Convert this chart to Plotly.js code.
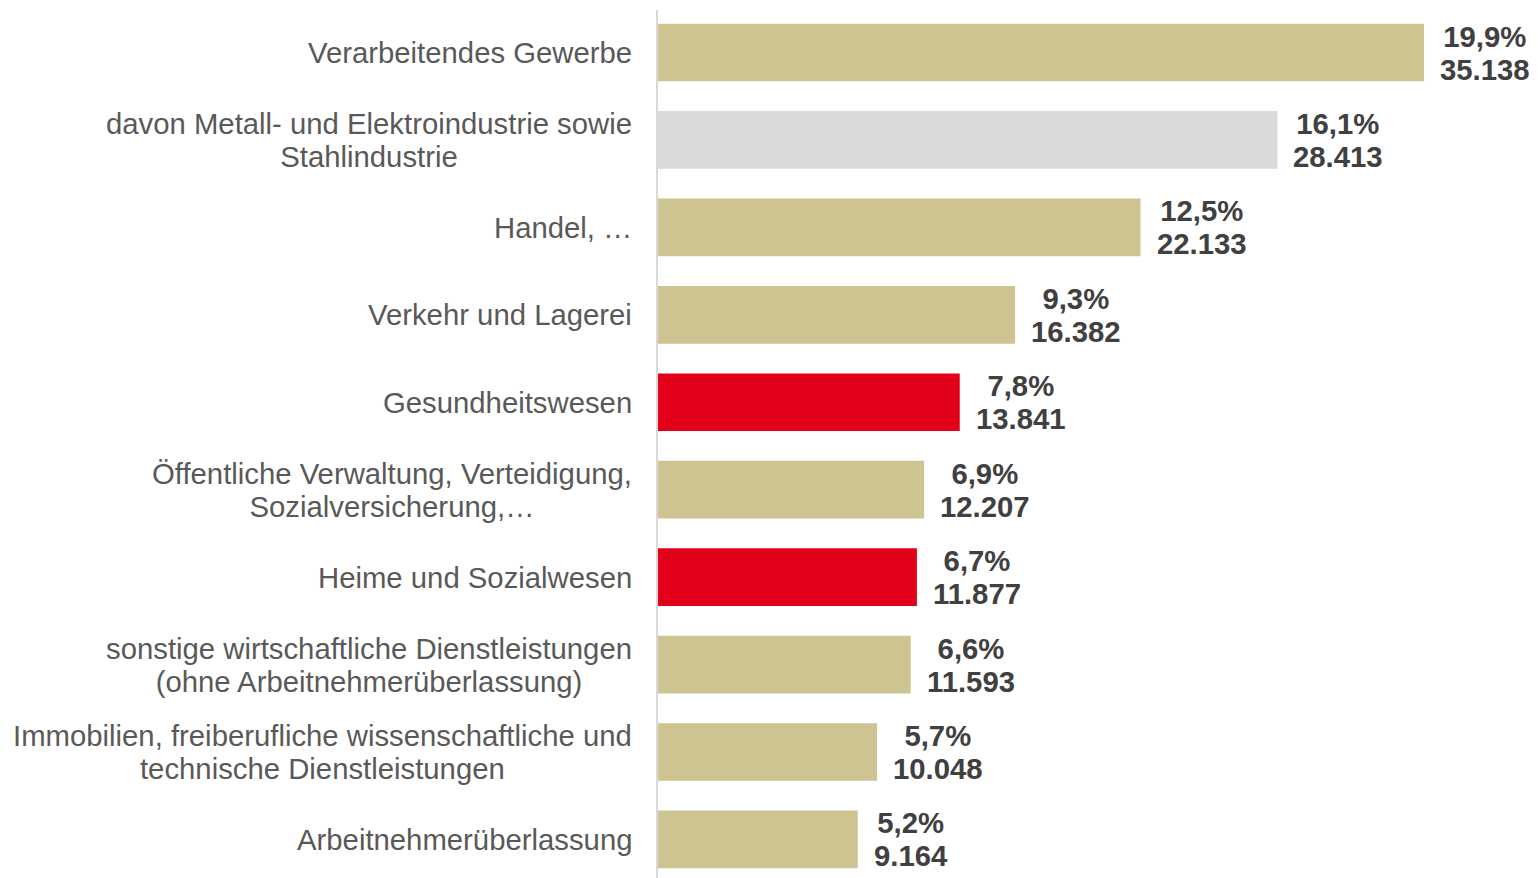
<!DOCTYPE html>
<html>
<head>
<meta charset="utf-8">
<script src="https://cdn.plot.ly/plotly-3.0.1.min.js"></script>
<style>
  html, body { margin: 0; padding: 0; background: #fff; }
  #chart { width: 1538px; height: 878px; }
</style>
</head>
<body>
<div id="chart"></div>
<script>
// Branchen (top to bottom)
const categories = [
  'Verarbeitendes Gewerbe',
  'davon Metall- und Elektroindustrie sowie<br>Stahlindustrie',
  'Handel, …',
  'Verkehr und Lagerei',
  'Gesundheitswesen',
  'Öffentliche Verwaltung, Verteidigung,<br>Sozialversicherung,…',
  'Heime und Sozialwesen',
  'sonstige wirtschaftliche Dienstleistungen<br>(ohne Arbeitnehmerüberlassung)',
  'Immobilien, freiberufliche wissenschaftliche und<br>technische Dienstleistungen',
  'Arbeitnehmerüberlassung'
];
const shares = [19.9, 16.1, 12.5, 9.3, 7.8, 6.9, 6.7, 6.6, 5.7, 5.2];
const counts = [35138, 28413, 22133, 16382, 13841, 12207, 11877, 11593, 10048, 9164];

const TAN = '#cdc492', GREY = '#d9d9d9', RED = '#e2001a';
const barColors = [TAN, GREY, TAN, TAN, RED, TAN, RED, TAN, TAN, TAN];

const FONT = 'Arial, Liberation Sans, sans-serif';

const fmtShare = v => v.toFixed(1).replace('.', ',') + '%';
const fmtCount = v => String(v).replace(/\B(?=(\d{3})+(?!\d))/g, '.');

// glyphs at 29.3px, line pitch 33px (1.3 x annotation font size)
const big = s => s.split('<br>').map(l => '<span style="font-size:29.3px">' + l + '</span>').join('<br>');

const trace = {
  type: 'bar',
  orientation: 'h',
  x: counts,
  y: categories,
  width: 0.66,
  marker: { color: barColors },
  hoverinfo: 'none'
};

const annotations = [];
categories.forEach((c, i) => {
  annotations.push({
    xref: 'paper', x: 0, y: c, yref: 'y',
    xanchor: 'right', yanchor: 'middle', xshift: -24,
    align: 'center', showarrow: false,
    text: big(c),
    font: { family: FONT, size: 25.4, color: '#595959' }
  });
  annotations.push({
    x: counts[i], y: c,
    xanchor: 'left', yanchor: 'middle', xshift: 14,
    align: 'center', showarrow: false,
    text: '<b>' + big(fmtShare(shares[i]) + '<br>' + fmtCount(counts[i])) + '</b>',
    font: { family: FONT, size: 25.4, color: '#404040' }
  });
});

const layout = {
  width: 1538, height: 878,
  margin: { l: 658, r: 0, t: 10, b: 0 },
  paper_bgcolor: '#fff',
  plot_bgcolor: '#fff',
  showlegend: false,
  xaxis: {
    range: [0, 40366],
    showgrid: false, zeroline: false, showline: false,
    showticklabels: false, ticks: ''
  },
  yaxis: {
    type: 'category',
    range: [9.441, -0.486],
    showgrid: false, zeroline: false,
    showline: true, linecolor: '#d9d9d9', linewidth: 2,
    showticklabels: false, ticks: ''
  },
  annotations: annotations
};

Plotly.newPlot('chart', [trace], layout, { staticPlot: true });
</script>
</body>
</html>
